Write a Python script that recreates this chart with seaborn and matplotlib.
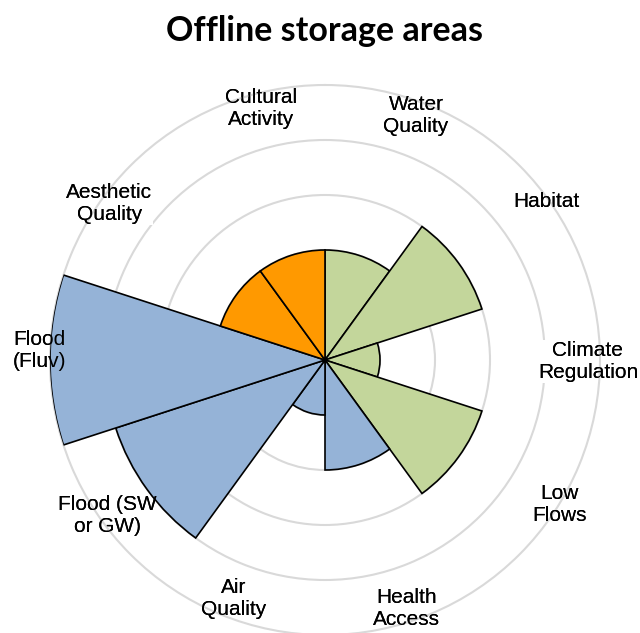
import numpy as np
import matplotlib
matplotlib.use("Agg")
import matplotlib.pyplot as plt
import seaborn as sns

categories = ["Water\nQuality", "Habitat", "Climate\nRegulation", "Low\nFlows",
              "Health\nAccess", "Air\nQuality", "Flood (SW\nor GW)", "Flood\n(Fluv)",
              "Aesthetic\nQuality", "Cultural\nActivity"]
values = [2, 3, 1, 3, 2, 1, 4, 5, 2, 2]
groups = ["env", "env", "env", "env", "flood", "flood", "flood", "flood", "soc", "soc"]
title = "Offline storage areas"

palette = {"env": "#C3D69B", "flood": "#95B3D7", "soc": "#FF9900"}
# label placement (style only): angle in degrees clockwise from north, radius in axis units
label_deg = [20.4, 54.4, 90.4, 121.6, 161.8, 201.0, 234.4, 272.0, 306.0, 345.7]
label_r = [4.75, 4.95, 4.78, 5.0, 4.76, 4.64, 4.87, 5.2, 4.85, 4.71]

sns.set_style("white")
plt.rcParams["font.family"] = ["Liberation Sans", "DejaVu Sans"]
plt.rcParams["text.color"] = "black"

fig = plt.figure(figsize=(6.4, 6.33), dpi=100)
ax = fig.add_axes([50 / 640, (633 - 635) / 633, 550 / 640, 550 / 633], projection="polar")
ax.set_theta_zero_location("N")
ax.set_theta_direction(-1)

n = len(values)
width = 2 * np.pi / n
theta = np.arange(n) * width + width / 2
colors = [palette[g] for g in groups]

ax.bar(theta, values, width=width, bottom=0, color=colors, edgecolor="black",
       linewidth=1.2, zorder=3, align="center")

ax.set_ylim(0, 5)
ax.set_yticks([1, 2, 3, 4])
ax.set_yticklabels([])
ax.set_xticks([])
ax.grid(False)
ax.yaxis.grid(True, color="#D9D9D9", linewidth=1.5, zorder=0)
ax.spines["polar"].set_color("#D9D9D9")
ax.spines["polar"].set_linewidth(1.5)
ax.set_facecolor("white")

for d, lab, r in zip(label_deg, categories, label_r):
    t = np.deg2rad(d)
    ax.text(t, r, lab, ha="center", va="center", fontsize=15, color="black",
            linespacing=1.2, zorder=2,
            bbox=dict(boxstyle="square,pad=0.05", facecolor="white", edgecolor="none"))
    ax.text(t, r, lab, ha="center", va="center", fontsize=15, color="black",
            linespacing=1.2, zorder=4)

fig.text(324 / 640, 1 - 31 / 633, title, ha="center", va="center", color="black",
         fontsize=24.5, fontweight="bold", family=["Lato", "DejaVu Sans"])

fig.savefig("out.png", dpi=100, facecolor="white")
